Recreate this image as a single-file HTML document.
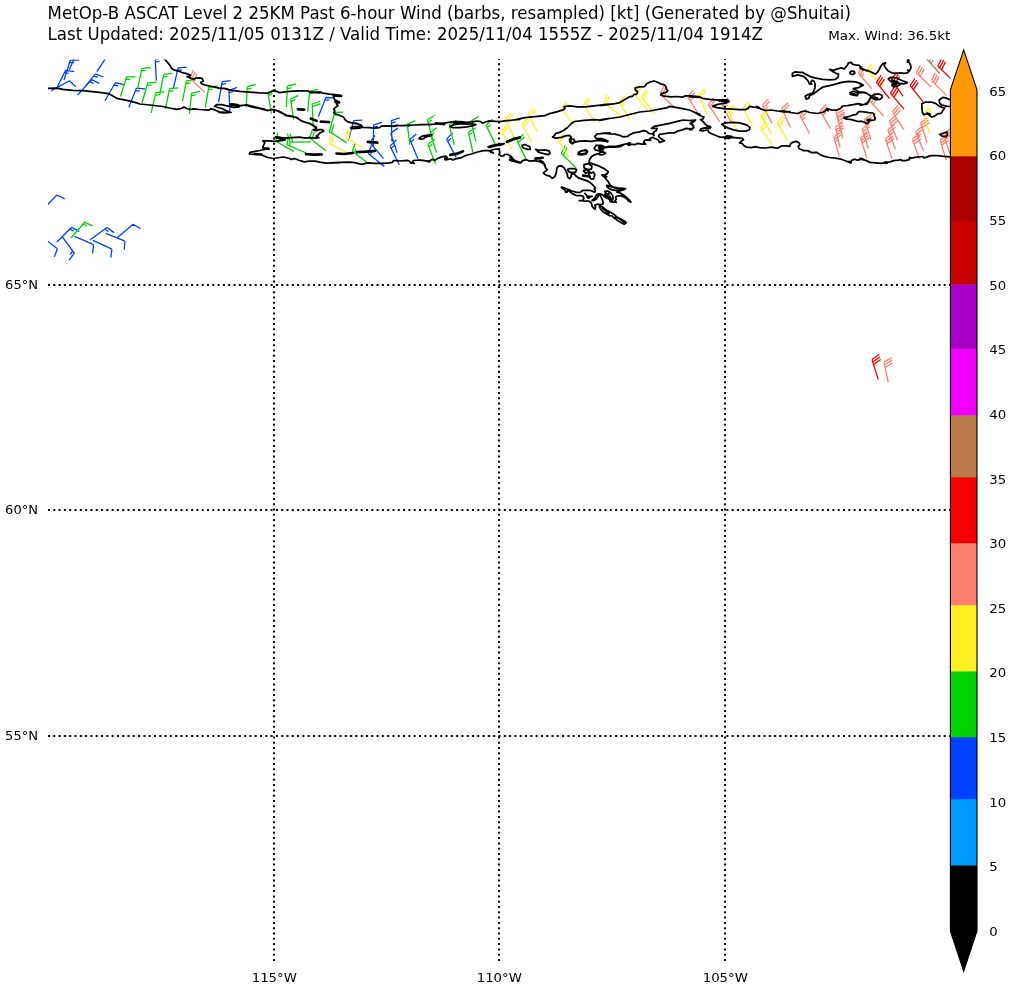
<!DOCTYPE html>
<html lang="en"><head><meta charset="utf-8"><title>MetOp-B ASCAT Level 2 25KM Past 6-hour Wind</title>
<style>
html,body{margin:0;padding:0;background:#fff;}
body{width:1010px;height:989px;overflow:hidden;font-family:"DejaVu Sans","Liberation Sans",sans-serif;}
svg{display:block;}
text{font-family:"DejaVu Sans","Liberation Sans",sans-serif;fill:#000;}
.t{font-size:16.67px;}
.s{font-size:13.33px;}
.g{stroke:#000;stroke-width:2;stroke-dasharray:2 3.3;fill:none;}
.c{stroke:#000;stroke-width:1.75;fill:none;stroke-linejoin:round;stroke-linecap:round;}
.b{stroke-width:1.3;fill:none;stroke-linejoin:miter;stroke-linecap:butt;}
</style></head><body>
<svg width="1010" height="989" viewBox="0 0 1010 989">
<rect width="1010" height="989" fill="#fff"/>
<text class="t" transform="translate(47.6,18.9) scale(0.9975,1.07)">MetOp-B ASCAT Level 2 25KM Past 6-hour Wind (barbs, resampled) [kt] (Generated by @Shuitai)</text>
<text class="t" transform="translate(47.6,39.8) scale(0.9975,1.07)">Last Updated: 2025/11/05 0131Z / Valid Time: 2025/11/04 1555Z - 2025/11/04 1914Z</text>
<text class="s" transform="translate(950.3,39.7) scale(1.01,0.9)" text-anchor="end">Max. Wind: 36.5kt</text>
<clipPath id="ax"><rect x="48.0" y="59.5" width="902.3" height="902.0"/></clipPath>
<g clip-path="url(#ax)">
<g class="b">
<path stroke="#0040ff" d="M56.3 89L65.6 70.4M65.6 70.4L74.2 71.7M64.4 72.7L68.7 73.4M64 80L70.3 60.2M70.3 60.2L79 60.2M69.5 62.7L73.9 62.7M69.3 69.8L77.7 50.8M77.7 50.8L86.4 51.8M76.7 53.2L81 53.7M51.2 90.6L69.5 80.8M69.5 80.8L75.8 86.8M77.6 95.1L91.5 79.7M91.5 79.7L99.4 83.4M89.8 81.7L93.7 83.5M82.4 89.9L95.5 73.8M95.5 73.8L103.6 77M93.9 75.8L97.9 77.4M96.8 71.6L108.4 54.3M108.4 54.3L116.7 56.7M106.9 56.4L111.1 57.7M105 100.8L115.3 82.7M115.3 82.7L123.8 84.6M114 85L118.3 85.9M128.8 107.5L136.4 88.2M136.4 88.2L145.1 88.8M135.5 90.6L139.8 90.9M156.3 80.7L155.3 59.9M155.3 59.9L163.5 56.9M155.4 62.5L159.5 61M173.4 88.1L178.1 67.8M178.1 67.8L186.8 67.2M177.5 70.4L181.8 70M218.6 102.2L222.2 81.7M222.2 81.7L230.8 80.6M221.7 84.3L226 83.7M229.9 111.2L228.9 90.4M228.9 90.4L237.1 87.4M229 93L233.1 91.5M318.3 116.8L325.9 97.5M325.9 97.5L334.6 98.1M324.9 99.9L329.3 100.2M348.3 140.7L353.6 120.6M353.6 120.6L362.3 120.2M352.9 123.1L357.3 122.9M373.3 145.6L373.6 124.8M373.6 124.8L382 122.3M373.6 127.4L377.7 126.1M384.3 166.6L368.2 153.5M368.2 153.5L371.4 145.4M370.2 155.2L371.8 151.1M383.5 158.6L370.1 142.6M370.1 142.6L374.9 135.3M391.9 141.4L391.4 120.6M391.4 120.6L399.7 117.8M391.5 123.2L395.6 121.8M399.3 164.7L390 146.1M390 146.1L396.2 140M391.1 148.4L394.3 145.4M397.2 152.9L390.7 133.2M390.7 133.2L397.7 128.1M417.9 158.8L409.8 139.6M409.8 139.6L416.4 134M410.8 142L414.1 139.2M456.2 157.5L446.6 139.1M446.6 139.1L452.7 132.9M447.8 141.4L450.8 138.3M42.4 210L56.9 195M56.9 195L64.7 198.9M56.9 242L71.6 227.3M71.6 227.3L79.3 231.3M69.8 229.1L73.6 231.1M40.9 236.1L57.4 248.7M57.4 248.7L54.4 256.9M62 236.3L74.3 253.1M74.3 253.1L69.1 260.1M72.8 251L70.2 254.5M74.6 236.3L93.6 244.7M93.6 244.7L92.6 253.4M93 240.4L111.9 249.1M111.9 249.1L110.8 257.7M90.2 239.8L107 227.5M107 227.5L114 232.6M104.9 229L108.4 231.6M105.7 233.3L125 241.1M125 241.1L124.2 249.8M117.3 237.8L133.1 224.2M133.1 224.2L140.5 228.8"/>
<path stroke="#00d200" d="M120.3 96.6L126.7 76.8M126.7 76.8L135.4 76.8M125.9 79.2L130.3 79.3M137.7 88.7L141.9 68.3M141.9 68.3L150.6 67.5M141.4 70.9L145.7 70.4M142.1 102.7L147.8 82.7M147.8 82.7L156.6 82.5M147.1 85.2L151.5 85.1M151.2 112.9L155.8 92.6M155.8 92.6L164.5 91.9M155.2 95.2L159.5 94.8M159.7 94.7L163.7 74.3M163.7 74.3L172.4 73.3M163.2 76.8L167.5 76.4M165.4 109L169.6 88.7M169.6 88.7L178.3 87.8M169.1 91.2L173.5 90.8M182.4 101.3L186.5 80.9M186.5 80.9L195.2 80M186 83.5L190.3 83M189.4 113.8L191.6 93.1M191.6 93.1L200.2 91.4M191.4 95.7L195.6 94.8M205.3 107.7L208.8 87.2M208.8 87.2L217.4 86M208.3 89.7L212.7 89.2M246.2 107.4L247.3 86.7M247.3 86.7L255.7 84.5M247.1 89.3L251.3 88.2M271.4 113.6L268.1 93.1M268.1 93.1L275.9 89.2M268.5 95.7L272.4 93.7M286.4 107L287.4 86.2M287.4 86.2L295.8 84M287.3 88.8L291.5 87.7M293.6 119.6L290.6 99.1M290.6 99.1L298.4 95.3M290.9 101.6L294.9 99.7M307.7 111.8L309.7 91.1M309.7 91.1L318.2 89.3M309.4 93.7L313.7 92.8M313.1 124.8L312.2 104M312.2 104L320.4 101M312.3 106.6L320.5 103.6M329.3 132.6L334.6 112.5M334.6 112.5L343.3 112.1M333.9 115L338.3 114.8M346.6 142.9L329.3 131.4M329.3 131.4L331.8 123M331.5 132.8L333.9 124.4M368.8 163.8L352.3 151.2M352.3 151.2L355.3 143M354.4 152.8L355.9 148.7M409.9 144.9L407.3 124.3M407.3 124.3L415.2 120.7M407.6 126.9L411.6 125.1M293.9 151.6L275.9 141.2M275.9 141.2L277.8 132.7M278.2 142.5L279.1 138.2M306.3 153L287.2 144.8M287.2 144.8L288.1 136.2M289.6 145.9L290 141.5M311 141.8L290.2 142.1M290.2 142.1L287.4 133.8M292.8 142.1L290 133.8M326 150.7L309.5 138M309.5 138L312.5 129.8M311.6 139.6L314.6 131.4M432.7 139.9L427.4 119.8M427.4 119.8L434.8 115.2M428.1 122.3L431.8 120M436.6 152.6L429.9 133M429.9 133L436.9 127.8M430.8 135.4L434.3 132.8M435.6 163.9L427.9 144.6M427.9 144.6L434.7 139.1M428.9 147L432.3 144.2M454.3 144.9L449.2 124.7M449.2 124.7L456.7 120.2M449.9 127.3L453.6 125M475.7 141.2L471 121M471 121L478.6 116.6M471.6 123.5L475.4 121.3M472.9 152.5L468.4 132.2M468.4 132.2L475.9 127.8M468.9 134.7L472.7 132.5M495.1 144.1L486.2 125.2M486.2 125.2L492.6 119.3M487.3 127.6L490.5 124.6M526 159.1L516.9 140.4M516.9 140.4L523.3 134.4M518.1 142.7L524.4 136.7M576.1 167.9L561.3 153.3M561.3 153.3L565.3 145.5M563.2 155.1L567.2 147.3M71 238L84.7 222.3M84.7 222.3L92.6 225.8M83 224.2L86.9 226"/>
<path stroke="#ff7f6e" d="M204.7 92.3L189.6 78.1M189.6 78.1L193.4 70.3M191.5 79.9L195.3 72M193.4 81.7L197.2 73.8M675.5 108L660 94.2M660 94.2L663.6 86.3M661.9 95.9L665.5 88M663.8 97.7L665.6 93.7M698.6 114.4L687.7 96.7M687.7 96.7L693.4 90.1M689.1 98.9L694.8 92.3M690.4 101.1L693.3 97.8M719.9 121.9L708.3 104.6M708.3 104.6L713.8 97.8M709.8 106.8L715.3 100M711.2 108.9L714 105.5M731 122.2L721.7 103.6M721.7 103.6L728 97.6M722.9 105.9L729.2 99.9M724 108.3L727.2 105.2M772.2 123.4L762.3 105.1M762.3 105.1L768.5 98.9M763.6 107.4L769.7 101.2M764.8 109.7L767.9 106.6M790.4 127.4L781.7 108.5M781.7 108.5L788.1 102.7M782.8 110.9L789.2 105M783.9 113.2L787.1 110.3M809.6 133.8L799.8 115.5M799.8 115.5L806 109.3M801 117.8L807.2 111.6M802.3 120.1L805.3 117M830.7 128.9L820.1 111M820.1 111L826 104.5M821.5 113.2L827.3 106.8M822.8 115.5L825.7 112.3M872.1 88.9L858.3 73.3M858.3 73.3L862.8 65.9M860 75.3L864.5 67.8M861.7 77.2L864 73.5M840.9 131.7L835.9 111.5M835.9 111.5L843.4 107M836.5 114.1L844 109.5M837.2 116.6L844.6 112.1M843 138.4L837.9 118.2M837.9 118.2L845.3 113.6M838.5 120.7L845.9 116.1M839.2 123.2L842.9 121M840.1 147.6L835.3 127.3M835.3 127.3L842.8 122.9M835.9 129.8L843.4 125.4M836.5 132.4L844 127.9M839.3 156.8L833.8 136.7M833.8 136.7L841.1 132M834.5 139.2L841.8 134.5M835.2 141.7L838.8 139.4M871 139.5L864.4 119.7M864.4 119.7L871.5 114.6M865.3 122.2L872.3 117.1M866.1 124.7L873.2 119.6M868.5 148.8L862.1 129M862.1 129L869.3 124M862.9 131.5L870.1 126.5M863.7 134L867.3 131.5M866.7 157.8L860.5 137.9M860.5 137.9L867.7 133M861.3 140.4L868.4 135.4M862 142.9L869.2 137.9M931.4 87.3L916.5 72.8M916.5 72.8L920.4 65.1M918.3 74.7L922.3 66.9M920.2 76.5L924.1 68.7M946.4 95.1L931.5 80.6M931.5 80.6L935.4 72.8M933.4 82.4L937.3 74.6M935.2 84.2L939.2 76.4M883.6 116L869.6 100.6M869.6 100.6L874 93.1M871.3 102.6L875.7 95M873.1 104.5L877.5 97M903.8 129.4L892.3 112M892.3 112L897.9 105.3M893.8 114.2L899.3 107.4M895.2 116.4L900.7 109.6M897.6 140.2L889.3 121.1M889.3 121.1L895.9 115.4M890.4 123.5L897 117.8M891.4 125.9L898 120.2M895.6 149.3L887.8 130.1M887.8 130.1L894.5 124.5M888.8 132.5L895.5 126.9M889.7 134.9L893.1 132.1M891.9 158.4L885.3 138.7M885.3 138.7L892.4 133.6M886.1 141.2L893.2 136.1M887 143.6L894 138.5M927.1 142.5L920.6 122.8M920.6 122.8L927.6 117.7M921.4 125.2L928.5 120.2M922.2 127.7L929.3 122.6M923.7 151L915.6 131.9M915.6 131.9L922.2 126.2M916.6 134.3L923.2 128.6M917.6 136.7L920.9 133.8M919.4 158.8L912.4 139.2M912.4 139.2L919.3 133.9M913.2 141.6L920.2 136.4M914.1 144.1L921.1 138.8M946.2 160L940.1 140.1M940.1 140.1L947.4 135.2M940.9 142.6L948.1 137.7M941.7 145.1L948.9 140.2M949.8 153.6L943.3 133.9M943.3 133.9L950.4 128.8M944.1 136.3L951.2 131.3M945 138.8L952 133.8M888.3 382.5L884 362.1M884 362.1L891.6 357.9M884.5 364.7L892.1 360.4M885.1 367.2L892.7 363"/>
<path stroke="#ffee22" d="M347.7 153L329.3 143.3M329.3 143.3L330.9 134.7M331.6 144.5L333.2 135.9M363.5 148.5L345.9 137.5M345.9 137.5L348.1 129M348.1 138.8L350.3 130.4M514.1 137.6L505.2 118.8M505.2 118.8L511.6 112.9M506.3 121.1L512.8 115.2M512.2 149.3L501.1 131.7M501.1 131.7L506.7 125M502.5 133.9L508.1 127.2M537.4 132.3L528.3 113.6M528.3 113.6L534.7 107.6M529.5 115.9L535.8 110M531.8 142.7L522.1 124.3M522.1 124.3L528.2 118.1M523.3 126.6L529.5 120.4M574.7 125.2L561.5 109.1M561.5 109.1L566.3 101.9M563.2 111.2L568 103.9M594.6 122.2L583.3 104.7M583.3 104.7L588.9 98M584.8 106.9L590.3 100.2M568.9 157.6L558.1 139.9M558.1 139.9L563.8 133.3M559.4 142.1L565.2 135.5M620.6 115.5L604.2 102.7M604.2 102.7L607.2 94.6M606.2 104.3L609.3 96.2M629.9 120L619.3 102.1M619.3 102.1L625.2 95.7M620.6 104.4L626.5 97.9M622 106.6L624.9 103.4M647.3 109.8L634.2 93.7M634.2 93.7L639 86.4M635.8 95.7L640.6 88.5M655 113.3L641.4 97.5M641.4 97.5L646.1 90.1M643.1 99.4L647.7 92M707.1 113.6L698.4 94.7M698.4 94.7L704.9 88.8M699.5 97L706 91.2M736.5 129.3L727.5 110.5M727.5 110.5L733.8 104.6M728.6 112.9L735 106.9M729.7 115.2L732.9 112.2M752.6 126L743 107.6M743 107.6L749.2 101.4M744.2 109.9L750.4 103.7M771.2 133.6L760.9 115.5M760.9 115.5L766.8 109.1M762.2 117.8L768.1 111.4M763.4 120L766.4 116.8M772.8 145.2L760.6 128.4M760.6 128.4L765.8 121.4M762.1 130.5L767.3 123.5M787.7 140.9L777.2 122.9M777.2 122.9L783.1 116.5M778.5 125.2L784.4 118.7M779.8 127.4L782.8 124.2M883.4 85.3L867.7 71.7M867.7 71.7L871.2 63.7M869.7 73.4L873.2 65.4M929.4 132.9L923.5 112.9M923.5 112.9L930.7 108.1M924.2 115.4L931.5 110.6"/>
<path stroke="#f50000" d="M889.5 98.5L876.4 82.4M876.4 82.4L881.2 75.1M878 84.4L882.8 77.2M879.7 86.4L884.5 79.2M903.2 96.4L891.4 79.2M891.4 79.2L896.8 72.4M892.9 81.4L898.3 74.5M894.4 83.5L899.8 76.7M904.1 109.1L890.5 93.3M890.5 93.3L895.1 85.9M892.2 95.3L896.8 87.9M893.9 97.3L898.5 89.9M923.1 101.8L910.1 85.6M910.1 85.6L915 78.4M911.7 87.6L916.6 80.4M913.3 89.7L918.2 82.4M952.7 80.6L937.9 66M937.9 66L941.8 58.3M939.7 67.8L943.7 60.1M941.6 69.7L945.5 61.9M878.2 379.4L872 359.5M872 359.5L879.1 354.5M872.8 362L879.9 357M873.5 364.5L880.7 359.5"/>
<path stroke="#b8784a" d="M939.7 73.5L925.8 58M925.8 58L930.2 50.5M927.5 59.9L931.9 52.4M929.2 61.9L933.7 54.4M931 63.8L933.2 60.1"/>
</g>
<g class="c">
<path d="M46.9 88.5L57.3 88.2L62.8 89.4L72.7 90.4L82.6 90.6L99.5 92.4L108.4 93.6L116.8 98.3L129.2 100.8L139.1 103.5M130 101L133 102L139.9 104L149.8 105L162.7 106.5L169.6 108L176.6 109.3L181.5 108.5L184 107L186.5 108.5L190.5 109.5L193.4 108.8L199.4 109.5L208.3 110L211.3 109L215.2 110L219.2 111.9L225.1 112.4L230 112.6M163.7 58.4L166.2 60.9L169.6 64.9L171.6 68.3L173.6 69.8L177.6 70.8L181.5 72.3L187.5 73.8L190.5 75.3L188.5 76.3L187 76.6L189.5 77.6L193.4 79.2L196.4 78.2L199.4 77.8L202.3 78.7L203.3 81.2L200.9 82.2L201.4 83.7L205.3 85.2L212.3 86.7L219.2 88.2L225.1 88.7L230 90.1M205 110.2L208.6 110.1L210.9 109L213.3 109.3L216.9 110.8L219.3 112.3L224 112.9L231.1 112.5L225.8 110.5L222.8 108.9L218.1 107.5L214.5 106.2L216.9 104.6L221.6 104.6L225.8 105.6L230 106.3L233.5 107.3L237.1 107.2L239.5 106.3L238.9 105.2L235.9 104.3L231.1 103.8M231.1 104L235.9 104.6L238.9 105.6L240.7 105.6L246.6 104.9L252.5 106.3L258.5 107.8L265 109.3M220 88.2L225.9 88.7L229.9 90.1L239.8 91.4L249.7 92.1L259.6 92.8L267.6 93.1L271.5 91.6L274 90.4L279.5 92.6L289.4 91.4L299.3 90.8L307.2 90.8L311.2 92.4L320 92.8M231.4 105L239.3 105.7L246.3 105L249.7 106.5L259.6 108.5L267.6 110.7L271.5 109.5L275.5 110L281.4 112.4L285.4 115.4L296.3 117.4L299.3 119.4L302.3 121.4L309.2 123.3L313.2 125.8L316.6 128.3M310 92.2L315.9 92.2L320.9 92.2L322.9 93.2L329.8 94.2L334.8 94.7L341.2 95.7L333.3 95.9L334.3 99.1L336.3 100.6L339.2 102.1L336.3 103.6L337.8 105.6L335.3 107.6L333.8 109.1L334.8 111L333.8 112.5L335.8 114L339.7 115.5L343.2 117L344.7 119L345.7 120.5L348.2 121.9L351.6 122.9L357.6 123.9L361.5 125.4L362.5 126.9L359.6 128.2L353.6 128.6L350.6 127.9L353.6 126.6L359.6 126.4L362.5 127.4L369.5 127.6L374.4 128.2L379.4 127.6L381.4 126.2L387.3 125.9L393.3 126.2L396.2 125.4L403.2 125.6L410 125.2M367.7 142.4L377.1 142.2M356.8 151.7L375.1 151.3M330 162.9L339.9 162.4L349.8 162.2L354.8 162.6L359.7 163.9L362.7 164.2L367.7 162.9L374.6 163.4L383.5 163.4L389.5 162.9L392.4 162.4L393.4 160.7L397.4 160.5L399.4 161L407.3 160.3L409.3 161L410.8 162.9L414.2 163.4L412.3 161.9L413.3 160.5L419.2 160L425.1 160.7L430 161M389.5 126L394.4 126.3L397.4 125.6L404.3 125.6L414.2 125L424.2 124.6L430 124.3M240 105.5L245.9 105L249.9 105.9L259.8 108.4L267.8 110.4L272.7 109.7L277.7 110.9L282.6 113.4L286.6 115.4L292.5 116.4L297.5 117.8L300.5 120.3L305.4 122.3L309.4 123.3L313.3 125.3L316.3 127.3L315.3 129.2L313.3 129.7L315.8 130.7L319.3 129.7L322.3 129.7L323.7 131.2L320.3 132.7L318.3 134.7L316.3 136.2L318.8 137.7L315.3 138.2L309.4 137.7L305.4 138.2L299.5 137.2L291.5 137.7L284.6 138.2L281.6 137.7L276.7 136.9L284.6 140.1L279.6 140.8L274.7 141.4L269.7 140.8L262.8 140.8L264.8 143.1L263.3 145.6L262.8 147.6L265.8 148.6L268.7 148.6L259.8 150.5L249.9 152.3L249.4 154L254.9 154.3L261.3 154.3L262.8 155.5L267.8 157.5L273.7 158.5L279.6 157.5L283.6 157L289.6 158.5L291.5 159.5L294.5 158.5L299.5 160.5L304.4 161.9L309.4 161L315.3 161.2L319.3 162.2L326.2 163.2L334.2 162.9L340 162.6M298 109.6L303.9 109.3M320.8 122.1L329.2 121.7M305.9 154.5L321.8 154.1M420 124.5L429.9 124.7L434.9 124.2L439.8 123.7L445.8 122.8L451.7 121.8L459.6 121.6L466.6 122.3L471.5 121.8L477.5 121L480.5 121.6L482.4 123.2L485.4 122L489.4 120.8L495.3 121.3L499.3 121.6L507.2 120.6L514.2 120L520 119.3M435.9 123.9L444.3 123.5M449.7 126.5L453.7 124.7L461.6 123.7L471.5 123.9L476 124.5L473.5 125.7L466.6 126.9L459.6 127.7L452.7 127.7ZM453.7 122.8L461.6 123.3M420 137.4L423 135.8L427.9 135.1L431.9 135.1L428.9 136.2L425 137.1L424 138.6L421 139.1L419 138.6ZM420 160.2L425.9 160.9L429.4 161.9L430.9 159.9L432.9 159.4L434.9 160.4L437.8 158.4L441.8 156.9L445.8 156.2L447.3 157.6L444.8 158.4L445.3 159.9L448.2 159.4L450.7 158.9L452.7 159.9L457.7 158.4L461.6 157.6L465.6 155.5L471.5 154L477.5 152L483.4 150.7L488.4 150.5L491.4 151.7L493.3 153L491.4 152.5L489.4 151L493.3 149.5L497.3 149L499.3 149.5L499.8 152.5L499.3 154.5L501.3 156.2L503.7 156L504.2 154.5L507.2 154.3L510.7 156L512.7 158.4L511.2 160.4L515.1 161.6L520 162.9M450.7 154.5L457.7 153.1L462.6 151.7M487.9 147L491.4 145.5L499.3 144.1L504.2 143.6L501.3 145L495.3 146L489.4 147.5ZM507.2 141.4L513.2 138.7L520 137.1M510 120.5L515.9 119.6L524.9 117.6L534.8 116.6L544.7 115.6L549.6 113.6L557.6 111.6L563.5 109.6L565 108.2L564 106.7L569.5 105.9L577.4 106.9L585.3 106.9L594.2 105.9L604.2 104.7L610 104.2M610 118.4L604.2 119.1L599.2 120L594.2 119.6L584.3 120.3L574.4 121.5L571.4 123.5L567.5 127.5L563.5 130.5L559.6 132.4L555.6 133.4L554.6 135.4L552.6 136.9L555.6 138.2L561.5 137.4L565.5 135.9L569.5 135.4L571.4 137.4L569.5 139.4L570 142.3L572.4 143.8L574.4 142.3L579.4 141.2L585.3 140.9L591.3 141.4L597.2 140.4L602.2 140.9L607.6 141.4L603.2 139.4L596.2 138.4L594.7 136.4L597.2 133.9L603.2 133.4L610 132.9M570.5 140.9L571.6 139.1L573.4 139.1L574.6 140.6L573.9 142.3L571.9 142.8ZM521.9 145.3L524.9 144.5L529.8 146.8L530.3 149.3L526.8 149.3L522.9 147.8ZM535.8 149.3L539.7 150.3L544.7 149.8L549.1 150.8L550.1 153.3L548.2 154.7L543.7 153.7L538.7 152.3ZM535.6 158.2L542.5 158.2M578.4 152.3L581.4 150.8L586.3 150.3L586.8 152.3L584.3 153.7L579.4 154.2ZM594.2 148.3L596.2 145.3L601.2 145.3L604.2 146.8L603.2 149.3L599.2 150.8L595.2 149.8ZM510 157.2L513 159.2L515.9 161.2L520.9 162.7L522.4 160.7L526.4 159.7L529.8 161.2L534.8 160.7L539.7 161.7L543.7 163.7L545.7 168M600 105.6L607.9 104.6L614.9 103.6L619.8 102.6L624.8 99.6L628.7 97.2L632.7 96.2L633.7 94.7L636.7 94.2L637.7 91.7L635.2 89.7L635.2 87.8L639.6 86.8L644.6 86.6L646.6 83.8L650.5 81.8L654 81L657.5 82.3L660.5 83.8L664.4 84.8L665.9 86.8L666.4 89.2L667.9 90.7L665.4 92.7L661.4 93.7L661 95.2L664.4 96.2L671.4 96.9L677.3 96.5L682.3 97.2L685.2 95.9L691.2 95.9L700 96.9M600 120.5L609.9 118.5L619.8 117L629.7 114.5L639.6 112L649.6 111L659.5 109.1L667.4 107.6L669.4 106.4L674.3 107.1L682.3 108.6L689.2 110L695.1 112.5L700 114.3M600 133.5L605 133.1L609.9 133.8L614.9 134.1L619.8 135.3L622.8 136.8L627.8 136.3L629.7 134.8L633.7 132.8L639.6 131.9L643.6 130.6L646.6 131.4L648.6 133.3L652.5 133.8L654 135.3L653.5 132.3L656.5 130.4L657 128.4L651.5 128.4L654 126.4L659.5 125.4L669.4 123.4L677.3 121.4L683.3 120L689.2 120.5L695.6 120L693.2 121.4L690.2 123.4L693.2 125.4L693.2 128.4L689.2 128.9L686.2 128.4L682.3 129.9L678.3 130.9L674.3 132.8L669.4 132.8L663.4 133.8L659.5 134.3L658.5 136.3L660.5 138.3L664.4 140.8L659.5 142.3L658.5 140.3L655.5 138.8L652.5 137.3L649.6 138.8L650.5 140.3L647.6 139.8L644.6 140.3L643.6 142.3L645.6 144.2L641.6 144.2L637.7 143.3L634.7 144.7L629.7 144.2L628.2 145.2L628.7 143.7L624.8 144.2L619.8 146.7L614.9 147.2L609.9 147L605 147.7L600 148.2M600 151.7L604 152.2L605.5 153.2L603 154.6L600 154.9M690 96.9L695.9 97.2L700.9 97.5L703.9 98.7L709.8 99.4L718.7 100.1L722.7 99.6L727.7 100.1L729.1 101.6L726.7 102.8L721.7 103.6L716.8 104.6L712.8 106.1L716.8 107.6L723.7 108.6L732.6 109.1L739.6 109.6L745.5 109.6L748.5 108.1L749.5 106.4L753.4 107.1L757.4 107.4L761.4 109.1L765.3 110.5L771.3 110L777.2 111L784.2 112L790 111.5M719.7 101L727.7 101.6M695 112.5L699.9 115.5L703.9 117L702.9 119L700.4 119.5L702.9 121.4L704.9 123.9L707.3 125.9L710.3 126.6L709.8 128.4L704.9 127.9L700.9 128.9L699.9 130.4L702.9 130.9L707.8 129.9L708.8 132.3L712.8 134.3L717.8 136.3L721.7 137.3L724.7 136.8L727.7 135.8L731.6 136.3L729.6 138.3L725.7 138.3L732.6 137.3L737.6 137.8L742.5 138.3L743.5 139.8L741 141.3L739.6 142.8L742 143.3L743.5 145.2L746.5 147.2L751.4 147.7L755.4 146.7L759.4 147.7L765.3 148L771.3 147.2L777.2 148.2M721.7 124.4L725.7 122.9L732.6 122.4L739.6 122.9L746.5 124.9L750 127.4L749.5 129.9L745.5 131.2L739.6 131.2L733.6 129.9L727.7 127.9L723.7 125.9ZM690 120.7L695.5 120.3L693.5 121.9L691 123.4L693 125.4L694 127.4L692 129.4L690 129.9M539.9 160.2L542.9 161.7L544.9 164.7L545.4 167.7L547.3 169.6L544.9 171.6L543.4 173.1L545.9 175.1L549.8 176.1L552.3 178.4L554.8 176.6L556.3 172.6L556.8 168.2L558.2 166.2L561.7 165.9L564.2 168.2L565.7 170.6L567.2 174.1L567.7 177.1L569.6 178.6L571.1 176.6L571.6 173.6L574.6 174.1L575.7 175.7M603.8 147.3L609.3 146.4L616.2 146.4L622.2 144.9L630 142.9M603.3 151.3L599.4 153.3L594.4 154.8L591.4 156.8L589.5 159.7L589 162.7L593.4 164.2L599.4 166.2L604.3 168.7L608.3 171.6L607.3 173.6L603.3 175.6M578.1 154.3L580.5 151.3L585.5 149.8L587.5 151.3L586.5 153.8L581.5 154.8ZM567.7 169.6L569.6 168.5L574.6 168.7L576.6 169.6L575.6 172.1L571.6 172.6L568.7 171.6ZM584 164.7L588.5 163.7L591.9 166.2L591.4 169.1L587.5 169.6L584 167.7ZM583.5 170.6L586.5 169.6L589.5 171.6L585.5 173.1ZM588.5 173.6L593.4 172.1L594.9 174.6L593.4 179.1L590.5 178.6L589.5 176.1ZM583.5 176.2L589 175.8M628.1 144.1L630 145.1M575.7 175.7L578.5 177.9L583.5 179.6L588.5 181.4L591.4 183.6L593.5 185.7L595.3 187.8L594.2 188.9L595.3 190.3L594.9 192.1L592.8 191.4L589.9 190.3L586.4 190.3L582.8 190.3L581.4 191.7L579.2 192.5L575.7 192.1L572.1 191L568.6 189.6L565 188.2L561.4 187.1L562.9 188.9L565 190L565.7 192.1L567.1 192.1L567.5 190.3L570 191.7L572.8 193.9L575.7 195.3L580.7 195.7L583.2 196.4L583.9 198.5L582.8 200.3L579.2 200.7L584.2 201L588.5 201L590.6 202.1L591.7 204.2L592.1 206.4L593.5 207.8L594.9 209.2L595.6 207.4L594.9 205.3L597.1 204.2L599.9 204.6L602.8 204.2L603.1 202.1L602.1 199.2L600.6 196.4L599.9 193.9L602.1 194.6L604.2 196.4L606.3 197.8L609.2 199.2L609.9 201L611.3 202.1L614.2 202.1L616.3 202.4L614.9 201L616.3 199.2L615.6 197.1L617 196L620.6 195.7L624.1 197.1L627 198.9L628.4 201L630.9 202.1L629.1 199.9L627 197.8L623.4 195L619.9 192.8L617 192.1L620.6 190.7L624.1 189.6L625.6 188.5L621.3 188.2L617 187.8L612.7 186.8L609.9 185L608.5 182.1L606.3 179.3L604.5 177.1L602.8 175.7M606.7 185.3L609.9 186.4L614.9 187.8L620.6 188.9L624.1 189.3L620.6 190.3L615.6 190.3L611.3 189.6L608.5 188.2L606.7 186.4ZM592.1 200.7L594.9 197.8L596.7 194.6L598.5 193.9L598.1 196.4L596.4 198.9L594.2 200.3ZM586.7 195.7L588.5 196.4L589.9 197.1L588.5 198.2L587.1 197.1ZM584.9 193.5L587.1 196L592.1 196.4M604.9 191.4L607.8 191L610.6 192.8L612.7 195.7L613.1 198.5L612 201.4L609.9 199.9L607.8 197.8L605.6 196.4L604.2 195.7L605.6 193.5ZM605.6 192.8L608.5 195L609.2 192.1M609.9 196.4L611.3 199.2M606.3 195.7L609.2 197.8M599.2 205.6L602.8 207.1L606.3 209.9L609.9 212.1L614.2 214.6L617 217.1L621.3 219.2L624.9 221.3L626.3 222.8L624.1 224.2L621.3 222.8L617.7 220.6L614.9 218.5L612 216L609.2 215.6L606.3 213.8L603.5 212.1L601.3 209.9L599.9 207.8ZM602.8 208.5L605.6 210.6L608.5 213.5L609.9 212.4M615.6 217.1L618.4 218.1L622.7 221L624.1 222.6M561.4 187.3L564.3 188M780 111L784 111L789.9 112.5L797.8 113.5L801.8 111.5L805.8 111L809.7 112.5L817.7 113.5L823.6 112L826.6 110L827.6 108.7L831.5 110L836.5 110L840.5 108.5L842.4 106L847.4 105.6L853.3 104.6L858.3 103.6L862.3 104.6L867.2 104.1L868.7 101.6L869.2 99.6L871.2 96.6M853.3 88.7L858.3 87.7L863.3 85.2L860.3 83.3L855.3 81.8L848.4 81.3L841.4 82.3L835.5 84.2L829.6 85.7L822.6 87.2L819.6 89.2L815.7 92.2L812.7 94.2L809.7 95.6L808.7 98.1L806.3 99.1L805.3 96.1L807.8 94.7L812.7 93.2L814.7 88.7L815.2 84.7L814.2 81.3L812.2 80.3L810.7 82.3L811.7 84.2L809.2 83.8L808.2 81.3L805.8 78.3L803.3 76.3L797.8 74.8L792.4 76.3L792.4 73.3L794.9 71.9L799.8 72.4L802.8 72.4L805.8 74.3L809.7 76.3L814.7 77.8L822.6 79.3L829.6 79.8L835.5 79.3L838 77.3L838.5 74.3L836 73.3L833.5 71.9L829.6 69.4L833.5 70.4L837.5 68.9L841.4 67.9L844.4 68.9L845.9 66.9L847.4 65.4L848.4 62.9L851.4 62.4L852.8 64.4L855.3 64.9L859.3 65.4L862.3 68.9L867.2 70.9M829.6 69.4L832.5 70.7M849.9 92.7L853.3 91.2L858.3 93.2L857.3 95.6L853.3 95.1L850.4 94.2ZM850.9 93.2L856.8 94.9M853.3 88.7L856.3 90.2L859.3 92.2L864.2 92.2L867.2 93.5M860 67.8L862.7 69.7L866.4 70.1L870 71.5L873.7 73.3L875.5 74.2L877.3 72.4L879.1 69.7L880.9 66L883.2 63.3L885.5 62.8L884.1 65.1L885.5 67.8L888.2 71L891.9 72.8L896.4 73.3L900.1 72.8L903.7 73.3L907.4 72.8L909.6 70.6L911 67.8L910.5 65.1L909.6 62.8L907.4 61.9L908.3 58.7M907.8 70.1L909.6 70.6M883.2 63.7L885.5 63.3M888.2 78.8L891 77.4L896.4 77.9L900.1 79.7L904.6 81.5L907.4 82.6L903.7 83.8L901 83.3L899.2 85.1L896.4 86.5L893.7 87L891.9 85.1L892.8 82.9L890.1 81ZM891.9 80.1L896.4 81.5L899.2 83.3L894.6 83.3L893.7 85.1L896.4 84.2L892.8 81.5L898.3 82.4M860 84.2L862.7 85.1L860 86.5M860 92.9L863.6 92.4L867.3 93.8L870.9 96.1L872.8 95.6L874.6 94.3L878.2 93.8L881.9 95.2L882.3 97.4L880 99.3L876.4 99.7L873.7 98.8L871.4 97L869.6 99.7L867.7 102.4L864.6 104.3L860 105.2M921.9 103.8L925.6 102L931 102L935.6 103.4L938.3 105.6L942 107.5L944.7 107.9L942.9 110.6L941.1 113.4L937.4 113.8L934.7 116.1L931.9 117L929.2 115.2L927.4 113.4L923.8 114.7L922.4 112.5L921.9 108.8L921.9 103.8M950 99.7L945.6 97.9L942.9 97.4L939.2 99.7L939.7 103.4L942 105.2L946.5 106.1L950 106.5M939.7 134.3L943.8 133L947 132L947.4 135.2L945.6 136.6L942 136.1ZM860 158.3L862.7 159.7L866.4 160.6L870 162.4L875.5 162.8L880.9 163.3L885.5 162.7L890.1 161.9L893.7 160.6L898.3 160.1L901 159.7L901.9 160.6L905.5 160.6L909.2 159.7L909.6 157.4L911 158.3L914.6 157.4L919.2 156.9L922.8 156.5L923.8 157.8L927.4 156.9L931 155.7L937.4 155.6L943.8 156.3L950.2 156.9M777.1 148.1L777.9 148L781.9 145.8L785.8 145.8L789.8 146.3L790.8 143.4L793.8 141.9L796.7 141.4L799.2 142.9L799.7 144.9L798.2 146.3L799.2 148.8L803.7 150.6L807.6 150.6L811.6 152.6L816.5 152.3L819.5 154.3L823.5 156.2L829.4 157.5L835.3 158.2L841.3 159.2L845.2 160.7L848.2 161.9L850.2 162.2L852.2 160.2L855.1 159.2L857.1 160.2L860.1 159.7L862.1 158.5L865 160.2L869.9 162.2M849.9 72.4L851.4 71.1L854.3 71.4L854.8 73.3L852.8 74.6L850.4 74ZM844.4 117.9L848.1 116.7L852.3 115.2L856.6 114.3L858.1 112.1L859.6 111.5L863.8 111.8L868.7 112.7L872.9 113L874.2 114.3L874.5 117L875.4 118.2L874.5 120L872.3 120.3L869.9 120L869 120.9L868.4 122.8L866.9 123.4L865 122.5L861.4 121.2L857.8 121.5L854.1 120.3L850.5 119.4L846.8 119.1Z"/>
<path stroke-width="2.5" d="M230.9 104.3L238.8 106.5M297.8 109.3L304.2 109.7M310.7 118.6L316.6 120.9M333.8 95.5L341.2 96.1M335.3 101.6L339.2 102.4M367.7 141.8L377.4 142.8M336.4 153.5L343.9 154L352.8 153M356.8 152.3L365.7 151.7L375.1 150.7M275.7 137.2L284.6 139.6M298 109.1L303.9 109.7M310.9 118.6L316.3 120.6M320.8 121.6L329.2 122.2M305.9 154L314.3 154.7L321.8 154.5M263.8 148.6L268.7 148.8M254.9 154.1L261.3 154.5M435.9 123.2L444.3 124.2M453.2 122L461.6 122.8L467.6 123.7M450.2 155L457.7 153.7L463.1 151.2M506.7 142.1L513.2 139.3L520 137.6M535.3 158.7L542.7 157.7M599.4 146.4L603.2 147.3M599.2 147.6L603.2 148.5M599.4 148.9L602 149.6M510 159.7L514 160.7M600 138.8L607.4 141.3M719.2 100.4L728.2 101.1M756.9 106.9L758.4 107.6M707.3 126.2L710.3 127.4M602.3 175.1L606.3 176.6M583 175.6L589.5 176.6M826.8 109.5L828 110.3M907.8 59.6L908.7 60.6M873.7 97.4L877.3 98.3L875.5 98.8M927.4 113.6L929.7 114.3M885 162.5L886.9 162.8M849.2 161.9L850.7 162.7M867.5 120L869.6 119.7M844.3 117.8L845.9 118.2"/>
</g>
</g>
<path class="g" d="M274 961V59.2"/>
<path class="g" d="M499 961V59.2"/>
<path class="g" d="M725 961V59.2"/>
<path class="g" d="M48.0 285H950.3"/>
<path class="g" d="M48.0 510H950.3"/>
<path class="g" d="M48.0 736H950.3"/>
<text class="s" transform="translate(38.0,289.0) scale(0.98,0.9)" text-anchor="end">65°N</text>
<text class="s" transform="translate(38.0,514.0) scale(0.98,0.9)" text-anchor="end">60°N</text>
<text class="s" transform="translate(38.0,740.0) scale(0.98,0.9)" text-anchor="end">55°N</text>
<text class="s" transform="translate(274.3,982) scale(1,0.9)" text-anchor="middle">115°W</text>
<text class="s" transform="translate(499.3,982) scale(1,0.9)" text-anchor="middle">110°W</text>
<text class="s" transform="translate(725.3,982) scale(1,0.9)" text-anchor="middle">105°W</text>
<rect x="950.4" y="865.1" width="26.6" height="66.2" fill="#000000"/>
<rect x="950.4" y="798.9" width="26.6" height="66.5" fill="#009bff"/>
<rect x="950.4" y="737" width="26.6" height="62.2" fill="#0040ff"/>
<rect x="950.4" y="671.1" width="26.6" height="66.2" fill="#00d200"/>
<rect x="950.4" y="604.9" width="26.6" height="66.5" fill="#ffee22"/>
<rect x="950.4" y="542.9" width="26.6" height="62.3" fill="#ff7f6e"/>
<rect x="950.4" y="477" width="26.6" height="66.2" fill="#f50000"/>
<rect x="950.4" y="415.1" width="26.6" height="62.2" fill="#b8784a"/>
<rect x="950.4" y="348.8" width="26.6" height="66.6" fill="#f000f8"/>
<rect x="950.4" y="284.1" width="26.6" height="65" fill="#a800c8"/>
<rect x="950.4" y="220.9" width="26.6" height="63.5" fill="#c80000"/>
<rect x="950.4" y="156" width="26.6" height="65.2" fill="#aa0000"/>
<rect x="950.4" y="89.8" width="26.6" height="66.5" fill="#ff9908"/>
<path d="M950.4 90.0L963.7 49.9L977.0 90.0Z" fill="#ff9908"/>
<path d="M950.4 930.8L963.7 971.3L977.0 930.8Z" fill="#000"/>
<path d="M950.4 931.0L963.7 971.3L977.0 931.0V89.8L963.7 49.9L950.4 89.8Z" fill="none" stroke="#000" stroke-width="1.1" stroke-linejoin="miter"/>
<text class="s" transform="translate(989.3,935.8) scale(1,0.9)">0</text>
<text class="s" transform="translate(989.3,871.2) scale(1,0.9)">5</text>
<text class="s" transform="translate(989.3,806.6) scale(1,0.9)">10</text>
<text class="s" transform="translate(989.3,741.9) scale(1,0.9)">15</text>
<text class="s" transform="translate(989.3,677.3) scale(1,0.9)">20</text>
<text class="s" transform="translate(989.3,612.7) scale(1,0.9)">25</text>
<text class="s" transform="translate(989.3,548.1) scale(1,0.9)">30</text>
<text class="s" transform="translate(989.3,483.5) scale(1,0.9)">35</text>
<text class="s" transform="translate(989.3,418.8) scale(1,0.9)">40</text>
<text class="s" transform="translate(989.3,354.2) scale(1,0.9)">45</text>
<text class="s" transform="translate(989.3,289.6) scale(1,0.9)">50</text>
<text class="s" transform="translate(989.3,225) scale(1,0.9)">55</text>
<text class="s" transform="translate(989.3,160.4) scale(1,0.9)">60</text>
<text class="s" transform="translate(989.3,95.7) scale(1,0.9)">65</text>
</svg>
</body></html>
